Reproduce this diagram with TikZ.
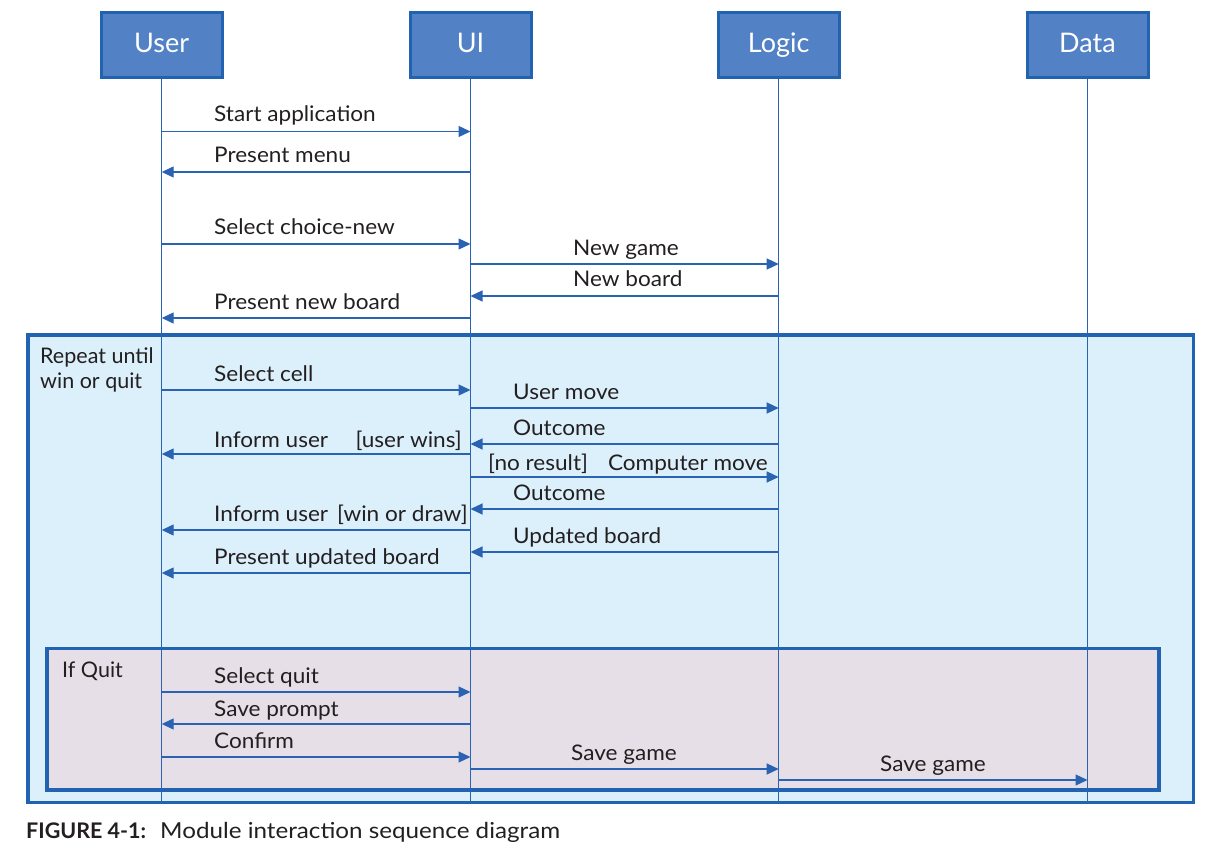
\documentclass[tikz,border=0pt]{standalone}
\usepackage{fontspec}
\setmainfont{Lato}
\newfontfamily\msgfont[FakeStretch=1.05]{Lato}
\newfontfamily\capfont[FakeStretch=1.1]{Lato}
\usetikzlibrary{arrows.meta,calc}
\definecolor{lineblue}{HTML}{2A63B2}
\definecolor{boxfill}{HTML}{5281C5}
\definecolor{boxedge}{HTML}{2162B1}
\definecolor{outerfill}{HTML}{DCF0FC}
\definecolor{innerfill}{HTML}{E6DFE8}
\definecolor{txt}{HTML}{231F20}
\tikzset{
  actor/.style={draw=boxedge, line width=3pt, fill=boxfill, minimum width=121pt, minimum height=65pt,
    text=white, font=\fontsize{27}{30}\selectfont, inner sep=0pt, text height=20pt, text depth=5.2pt},
  life/.style={draw=lineblue, line width=1.2pt},
  msg/.style={draw=lineblue, line width=1.3pt, -{Triangle[length=12pt,width=11pt]}},
  lbl/.style={anchor=base west, inner sep=0pt, text=txt, font=\msgfont\fontsize{21.5}{25}\selectfont},
  lblr/.style={anchor=base east, inner sep=0pt, text=txt, font=\msgfont\fontsize{21.5}{25}\selectfont},
  framelbl/.style={anchor=base west, inner sep=0pt, text=txt, font=\fontsize{21.5}{25}\selectfont},
  frame/.style={draw=boxedge, line width=3.5pt},
}
\newcommand{\msgline}[4]{\draw[msg] (#1.south |- 0,#3) -- (#2.south |- 0,#3);}
\begin{document}
\begin{tikzpicture}[x=1pt,y=-1pt]
\useasboundingbox (0,0) rectangle (1205,853);
% frames
\draw[frame, fill=outerfill] (27.75,334.75) rectangle (1193.25,802.25);
\draw[frame, fill=innerfill] (47,648.5) rectangle (1159,790);
\node[framelbl] (rep1) at (40,363) {Repeat until};
\node[framelbl] (rep2) at (40,388) {win or quit};
\node[framelbl] (ifq) at (62,677) {If Quit};
% actors
\node[actor] (user) at (161.7,45.3) {User};
\node[actor] (ui) at (470.5,45.3) {UI};
\node[actor] (logic) at (778.7,45.3) {Logic};
\node[actor] (data) at (1087.5,45.3) {Data};
% lifelines
\foreach \a in {user,ui,logic,data}{
  \draw[life] (\a.south) -- (\a.south |- 0,803);
}
% messages
\msgline{user}{ui}{131.5}{}
\node[lbl] (m1) at (214,122) {Start application};
\msgline{ui}{user}{172}{}
\node[lbl] (m2) at (214,163) {Present menu};
\msgline{user}{ui}{244}{}
\node[lbl] (m3) at (214,235) {Select choice-new};
\msgline{ui}{logic}{264}{}
\node[lbl] (m4) at (573,255) {New game};
\msgline{logic}{ui}{296}{}
\node[lbl] (m5) at (573,287) {New board};
\msgline{ui}{user}{318}{}
\node[lbl] (m6) at (214,309) {Present new board};
\msgline{user}{ui}{390}{}
\node[lbl] (m7) at (214,381) {Select cell};
\msgline{ui}{logic}{408}{}
\node[lbl] (m8) at (513,399) {User move};
\msgline{logic}{ui}{444}{}
\node[lbl] (m9) at (513,435) {Outcome};
\msgline{ui}{user}{454}{}
\node[lbl] (m10) at (214,447) {Inform user};
\node[lblr] (m10b) at (462,447) {[user wins]};
\msgline{ui}{logic}{477}{}
\node[lbl] (m11) at (488,470) {[no result]};
\node[lblr] (m11b) at (768,470) {Computer move};
\msgline{logic}{ui}{509}{}
\node[lbl] (m12) at (513,500) {Outcome};
\msgline{ui}{user}{530}{}
\node[lbl] (m13) at (214,521) {Inform user};
\node[lblr] (m13b) at (468,521) {[win or draw]};
\msgline{logic}{ui}{552}{}
\node[lbl] (m14) at (513,543) {Updated board};
\msgline{ui}{user}{573}{}
\node[lbl] (m15) at (214,564) {Present updated board};
\msgline{user}{ui}{692}{}
\node[lbl] (m16) at (214,683) {Select quit};
\msgline{ui}{user}{724}{}
\node[lbl] (m17) at (214,716) {Save prompt};
\msgline{user}{ui}{757}{}
\node[lbl] (m18) at (214,748) {Confirm};
\msgline{ui}{logic}{769}{}
\node[lbl] (m19) at (571,760) {Save game};
\msgline{logic}{data}{780}{}
\node[lbl] (m20) at (880,771) {Save game};
% caption
\node[framelbl, font=\fontsize{21.5}{25}\selectfont\bfseries] (cap1) at (26,838) {FIGURE 4-1:};
\node[framelbl, font=\capfont\fontsize{22}{25}\selectfont] (cap2) at (160,838) {Module interaction sequence diagram};
\end{tikzpicture}
\end{document}
